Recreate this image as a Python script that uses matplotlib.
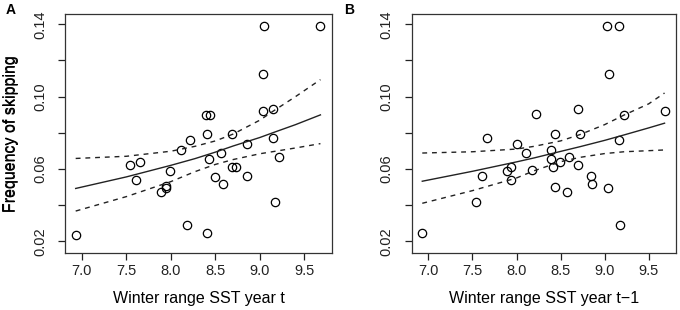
import matplotlib
matplotlib.use('Agg')
import matplotlib.pyplot as plt

plt.rcParams['font.family'] = ['Liberation Sans', 'DejaVu Sans']

# panel A: winter range SST year t
sst_a = [6.93, 7.54, 7.65, 7.61, 7.89, 7.94, 7.95, 7.99, 8.11, 8.22, 8.18, 8.40,
         8.39, 8.44, 8.41, 8.43, 8.50, 8.56, 8.59, 8.69, 8.69, 8.73, 8.85, 8.85,
         9.03, 9.03, 9.05, 9.15, 9.15, 9.22, 9.17, 9.68]
skip_a = [0.0237, 0.0620, 0.0639, 0.0539, 0.0475, 0.0497, 0.0505, 0.0589, 0.0705, 0.0762, 0.0290, 0.0246,
          0.0897, 0.0900, 0.0794, 0.0655, 0.0558, 0.0687, 0.0515, 0.0795, 0.0609, 0.0611, 0.0736, 0.0560,
          0.0923, 0.1125, 0.1393, 0.0932, 0.0770, 0.0665, 0.0416, 0.1390]

fit_x_a = [6.93, 7.5, 8.0, 8.27, 8.5, 8.7, 9.0, 9.15, 9.4, 9.68]
fit_a = [0.0492, 0.0556, 0.0620, 0.0657, 0.0693, 0.0727, 0.0774, 0.0801, 0.0845, 0.0899]
upr_a = [0.0658, 0.0670, 0.0698, 0.0725, 0.0755, 0.0793, 0.0870, 0.0920, 0.1000, 0.1094]
lwr_a = [0.0367, 0.0447, 0.0530, 0.0585, 0.0625, 0.0652, 0.0684, 0.0696, 0.0716, 0.0740]

# panel B: winter range SST year t-1
sst_b = [6.93, 7.54, 7.61, 7.66, 7.89, 7.94, 7.94, 8.00, 8.11, 8.18, 8.22, 8.39,
         8.39, 8.41, 8.44, 8.44, 8.49, 8.57, 8.59, 8.70, 8.70, 8.72, 8.85, 8.86,
         9.03, 9.05, 9.04, 9.16, 9.16, 9.17, 9.22, 9.68]
skip_b = [0.0246, 0.0416, 0.0559, 0.0771, 0.0589, 0.0609, 0.0539, 0.0736, 0.0688, 0.0593, 0.0902, 0.0703,
          0.0657, 0.0613, 0.0794, 0.0502, 0.0637, 0.0475, 0.0664, 0.0934, 0.0620, 0.0795, 0.0559, 0.0515,
          0.1391, 0.1125, 0.0493, 0.1393, 0.0762, 0.0290, 0.0899, 0.0923]

fit_x_b = [6.93, 7.5, 8.0, 8.2, 8.5, 8.72, 9.0, 9.22, 9.5, 9.68]
fit_b = [0.0532, 0.0587, 0.0639, 0.0661, 0.0697, 0.0723, 0.0758, 0.0788, 0.0827, 0.0853]
upr_b = [0.0688, 0.0695, 0.0710, 0.0725, 0.0755, 0.0790, 0.0845, 0.0898, 0.0960, 0.1020]
lwr_b = [0.0410, 0.0480, 0.0550, 0.0590, 0.0640, 0.0664, 0.0685, 0.0695, 0.0701, 0.0705]

x_ticks = [7.0, 7.5, 8.0, 8.5, 9.0, 9.5]
y_ticks = [0.02, 0.04, 0.06, 0.08, 0.10, 0.12, 0.14]
y_ticklabels = ['0.02', '', '0.06', '', '0.10', '', '0.14']

fig = plt.figure(figsize=(6.8, 3.1), dpi=100)
W, H = 680., 310.

def panel(left, right, top, bottom, x, y, fx, fit, upr, lwr, xlabel, letter, letter_x):
    ax = fig.add_axes([left / W, 1 - bottom / H, (right - left) / W, (bottom - top) / H])
    ax.plot(x, y, 'o', ms=6, mfc='none', mec='black', mew=0.9)
    ax.plot(fx, fit, '-', color='#222222', lw=1.0)
    ax.plot(fx, upr, '--', color='#222222', lw=1.0, dashes=(3.5, 3.5))
    ax.plot(fx, lwr, '--', color='#222222', lw=1.0, dashes=(3.5, 3.5))
    ax.set_xlim(6.81, 9.81)
    ax.set_ylim(0.0135, 0.1457)
    ax.set_xticks(x_ticks)
    ax.set_xticklabels(['%.1f' % t for t in x_ticks])
    ax.set_yticks(y_ticks)
    ax.set_yticklabels(y_ticklabels, rotation=90, va='center')
    ax.tick_params(axis='both', direction='out', length=5, width=0.9, colors='#222222', labelsize=10.5)
    ax.tick_params(axis='x', pad=3)
    ax.tick_params(axis='y', pad=8)
    for s in ax.spines.values():
        s.set_linewidth(0.9)
        s.set_color('#333333')
    ax.set_xlabel(xlabel, fontsize=11.5)
    ax.set_ylabel('Frequency of skipping', fontsize=11.5)
    ax.xaxis.label.set_va('center')
    ax.yaxis.label.set_va('center')
    ax.xaxis.set_label_coords(0.5, (H - 298 - (H - bottom)) / (bottom - top))
    ax.yaxis.set_label_coords((11 - left) / (right - left), 0.5)
    fig.text(letter_x / W, 1 - 10 / H, letter, fontsize=10, fontweight='bold', va='center', ha='center')
    return ax

panel(65, 332, 14, 253, sst_a, skip_a, fit_x_a, fit_a, upr_a, lwr_a,
      'Winter range SST year t', 'A', 11)
panel(411.7, 676, 14, 253, sst_b, skip_b, fit_x_b, fit_b, upr_b, lwr_b,
      'Winter range SST year t\u22121', 'B', 349)

fig.savefig('out.png', dpi=100)
